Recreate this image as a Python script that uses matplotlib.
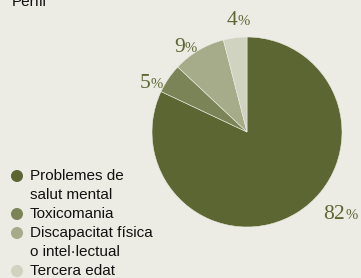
import matplotlib.pyplot as plt
import numpy as np

# ==== data ====
categories = ["Problemes de\nsalut mental", "Toxicomania",
              "Discapacitat física\no intel·lectual", "Tercera edat"]
values = [82, 5, 9, 4]
colors = ["#5c6633", "#7b8456", "#a6ab8a", "#d1d3c1"]
title = "Perfil"

bg = "#ecece4"
label_color = "#5c6633"
# label placement (angle offset in degrees from wedge middle, radius) -> baseline point
label_layout = [(16, 1.38), (9.8, 1.12), (7.2, 1.065), (-1.9, 1.13)]

fig = plt.figure(figsize=(3.61, 2.78), dpi=100)
fig.patch.set_facecolor(bg)

W, H = 361, 278
ax = fig.add_axes([152 / W, 51 / H, 190 / W, 190 / H])
ax.set_facecolor(bg)
wedges, _ = ax.pie(values, colors=colors, startangle=90, counterclock=False,
                   wedgeprops=dict(edgecolor=bg, linewidth=0.4))
ax.set_xlim(-1, 1)
ax.set_ylim(-1, 1)
ax.set_aspect("equal")
ax.axis("off")

# ==== percentage labels ====
for w, v, (da, r) in zip(wedges, values, label_layout):
    mid = np.deg2rad((w.theta1 + w.theta2) / 2 + da)
    x, y = r * np.cos(mid), r * np.sin(mid)
    ax.text(x, y, str(v), ha="right", va="baseline", fontsize=15.5,
            family="Liberation Serif", color=label_color, clip_on=False)
    ax.text(x, y, "%", ha="left", va="baseline", fontsize=10.5,
            family="Liberation Serif", color=label_color, clip_on=False)

# ==== title (cut at top) ====
fig.text(12 / W, 1 - 6 / H, title, ha="left", va="baseline", fontsize=11,
         family="Liberation Sans", color="#111111")

# ==== legend ====
line_h = 19
y = 176
for cat, c in zip(categories, colors):
    fig.patches.append(plt.Circle((17, H - y), 5.3, transform=None, color=c))
    for line in cat.split("\n"):
        fig.text(30 / W, 1 - y / H, line, ha="left", va="center", fontsize=11,
                 family="Liberation Sans", color="#111111")
        y += line_h

fig.savefig("out.png", dpi=100, facecolor=bg)
